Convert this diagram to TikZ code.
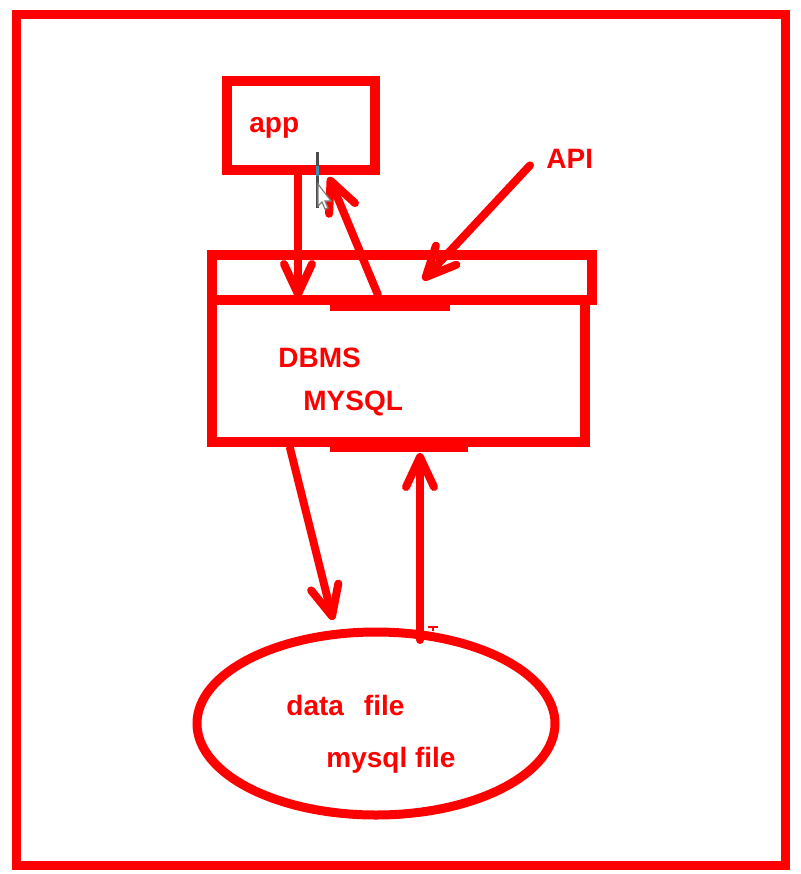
\documentclass[tikz,border=0pt]{standalone}
\usepackage{fontspec}
\setmainfont{Liberation Sans}
\usetikzlibrary{shapes.geometric,calc,arrows.meta}

\begin{document}
\begin{tikzpicture}[x=0.5pt,y=-0.5pt,
        caja/.style={draw=rojo,line width=5pt,inner sep=0pt,outer sep=0pt},
        flecha/.style={draw=rojo,line width=4pt,line cap=round,
            -{Straight Barb[length=15pt,width=14pt,line cap=round,line join=round]}},
        texto/.style={text=rojo,font=\fontsize{14}{16}\selectfont\bfseries,inner sep=0pt,anchor=base west}]
        %colores
        \colorlet{rojo}{red}

        \useasboundingbox (0,0) rectangle (801,874);
        % Marco
        \draw[rojo,line width=4.5pt] (16.5,14.5) rectangle (785,865);

        % Cajas y elipse
        \node[caja,minimum width=74pt,minimum height=44.5pt] (app) at (301,125.5) {};
        \node[caja,minimum width=190pt,minimum height=22.5pt] (cab) at (402,277.5) {};
        \node[caja,minimum width=186.5pt,minimum height=71pt] (dbms) at (398.5,371) {};
        \node[caja,ellipse,line width=4.5pt,minimum width=179pt,minimum height=91.5pt] (datos) at (376,723.5) {};
        % trazos gruesos
        \draw[rojo,line width=5pt] (330,306) -- (450,306);
        \draw[rojo,line width=5pt] (330,447) -- (468,447);

        %Textos
        \foreach \n/\p/\t in {lapp/{249,132}/app, api/{546,168}/API, ldbms/{278,367}/DBMS,
            lmysql/{303,410}/MYSQL, ldatos/{286,715}/data\hspace{10pt}file, lmy/{326,767}/mysql file}
        \node[texto] (\n) at (\p) {\t};

        % Flechas
        \draw[flecha] ($(app.south)+(-3,0)$) -- ($(cab.south)+(-104,-2)$);
        \draw[flecha] ($(cab.south)+(-24,-5)$) -- ($(app.south)+(28,7)$);
        \draw[flecha] ($(api.west)+(-16,7)$) -- ($(cab.center)+(21,2.5)$);
        \draw[flecha] ($(dbms.south west)+(78,6)$) -- ($(datos.north)+(-43,-12)$);
        \draw[flecha] ($(datos.north)+(44,8)$) -- ($(dbms.south)+(21.5,11)$);
        \draw[rojo,line width=1pt] (428,627) -- (438,627) (433,627) -- (433,631);

        % Cursor
        \draw[black!70,line width=1.5pt] (317,152) -- (317,208);
        \draw[cyan!70!black,line width=1.5pt] (317,166) -- (317,176);
        \filldraw[fill=white,draw=gray,line width=0.6pt] (318,184) -- (318,206) -- (322,202) -- (325,209)
            -- (328,208) -- (325,201) -- (331,201) -- cycle;
    \end{tikzpicture}
\end{document}
